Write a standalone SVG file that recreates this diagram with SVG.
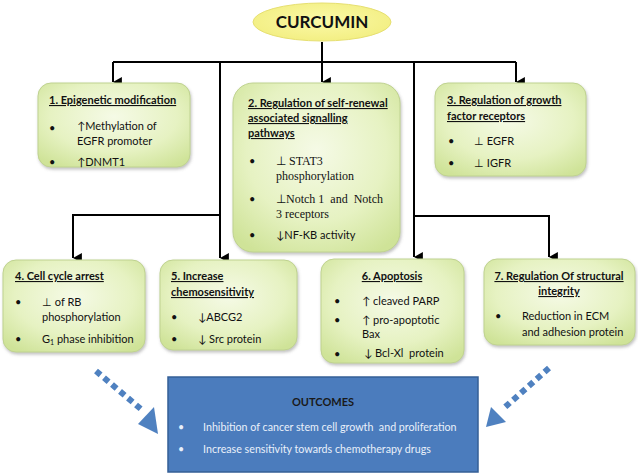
<svg xmlns="http://www.w3.org/2000/svg" width="638" height="475" viewBox="0 0 638 475">
<defs>
<radialGradient id="gn" cx="50%" cy="40%" r="70%">
<stop offset="0" stop-color="#f5fae6"/>
<stop offset="0.6" stop-color="#e6f2c2"/>
<stop offset="1" stop-color="#cfe398"/>
</radialGradient>
<radialGradient id="ye" cx="50%" cy="45%" r="60%">
<stop offset="0" stop-color="#fbf9a8"/>
<stop offset="1" stop-color="#f2ee80"/>
</radialGradient>
<filter id="sh" x="-10%" y="-10%" width="125%" height="125%">
<feDropShadow dx="1" dy="2" stdDeviation="1.5" flood-color="#777" flood-opacity="0.45"/>
</filter>
<marker id="ah" markerUnits="userSpaceOnUse" markerWidth="10" markerHeight="10" refX="4.5" refY="8" orient="auto-start-reverse" viewBox="0 0 9 9">
<path d="M0,0 L9,0 L4.5,8 Z" fill="#000"/>
</marker>
</defs>
<style>
.node{fill:url(#gn);stroke:#bfd290;stroke-width:1;filter:url(#sh)}
.t{font-family:Lato,"Liberation Sans",sans-serif;font-size:11px;fill:#111}
.b{font-weight:bold;text-decoration:underline}
.s{font-family:"Liberation Serif",serif;font-size:12px;fill:#111}
.ln{fill:none;stroke:#000;stroke-width:2}
.da{fill:none;stroke:#4f81c0;stroke-width:6;stroke-dasharray:6 4.5}
.ah2{fill:#4f81c0}
.o{font-family:Lato,"Liberation Sans",sans-serif;font-size:10.7px;fill:#e9f0fa}
.pre{white-space:pre}
</style>

<g id="connectors">
<path class="ln" d="M322,42 V62"/>
<path class="ln" d="M113,62 H516"/>
<path class="ln" d="M113,62 V82" marker-end="url(#ah)"/>
<path class="ln" d="M322,62 V82" marker-end="url(#ah)"/>
<path class="ln" d="M516,62 V82" marker-end="url(#ah)"/>
<path class="ln" d="M220,62 V258" marker-end="url(#ah)"/>
<path class="ln" d="M414,62 V257" marker-end="url(#ah)"/>
<path class="ln" d="M220,215 H73 V258" marker-end="url(#ah)"/>
<path class="ln" d="M414,216 H549 V257" marker-end="url(#ah)"/>
<path class="da" d="M96,371 L142,410"/>
<path class="ah2" d="M138,424 L154,407 L158,434 Z"/>
<path class="da" d="M549,368 L504,408"/>
<path class="ah2" d="M491,407 L506,422 L486,427 Z"/>
</g>

<g id="curcumin">
<ellipse cx="322" cy="22" rx="69" ry="19" fill="url(#ye)" stroke="#e6df70" stroke-width="1"/>
<text x="322" y="28" text-anchor="middle" font-family="Lato,'Liberation Sans',sans-serif" font-size="17" font-weight="bold" fill="#111">CURCUMIN</text>
</g>

<g id="n1">
<rect class="node" x="38" y="83" width="152" height="84" rx="13"/>
<text class="t b" x="49" y="104">1. Epigenetic modification</text>
<text class="t" x="49" y="132">•</text>
<text class="t" x="77" y="130">↑Methylation of</text>
<text class="t" x="77" y="145">EGFR promoter</text>
<text class="t" x="49" y="166">•</text>
<text class="t" x="77" y="166">↑DNMT1</text>
</g>

<g id="n2">
<rect class="node" x="233" y="83" width="167" height="169" rx="20"/>
<text class="t b" x="248" y="107">2. Regulation of self-renewal</text>
<text class="t b" x="248" y="122">associated signalling</text>
<text class="t b" x="248" y="137">pathways</text>
<text class="t" x="249" y="165">•</text>
<text class="s" x="276" y="165">⊥ STAT3</text>
<text class="s" x="276" y="180">phosphorylation</text>
<text class="t" x="249" y="203">•</text>
<text class="s pre" x="276" y="203">⊥Notch 1  and  Notch</text>
<text class="s" x="276" y="218">3 receptors</text>
<text class="t" x="249" y="239">•</text>
<text class="t" x="276" y="239">↓NF-KB activity</text>
</g>

<g id="n3">
<rect class="node" x="435" y="83" width="151" height="93" rx="13"/>
<text class="t b" x="447" y="104">3. Regulation of growth</text>
<text class="t b" x="447" y="120">factor receptors</text>
<text class="t" x="448" y="145">•</text>
<text class="t" x="474" y="145">⊥ EGFR</text>
<text class="t" x="448" y="167">•</text>
<text class="t" x="474" y="167">⊥ IGFR</text>
</g>

<g id="n4">
<rect class="node" x="3" y="260" width="142" height="92" rx="13"/>
<text class="t b" x="15" y="280">4. Cell cycle arrest</text>
<text class="t" x="15" y="306">•</text>
<text class="t" x="42" y="306">⊥ of RB</text>
<text class="t" x="42" y="321">phosphorylation</text>
<text class="t" x="15" y="343">•</text>
<text class="t" x="42" y="343">G<tspan font-size="7" dy="2">1</tspan><tspan dy="-2"> phase inhibition</tspan></text>
</g>

<g id="n5">
<rect class="node" x="160" y="260" width="137" height="90" rx="13"/>
<text class="t b" x="171" y="280">5. Increase</text>
<text class="t b" x="171" y="296">chemosensitivity</text>
<text class="t" x="171" y="321">•</text>
<text class="t" x="198" y="321">↓ABCG2</text>
<text class="t" x="171" y="343">•</text>
<text class="t" x="198" y="343">↓ Src protein</text>
</g>

<g id="n6">
<rect class="node" x="321" y="259" width="143" height="104" rx="13"/>
<text class="t b" x="392" y="280" text-anchor="middle">6. Apoptosis</text>
<text class="t" x="334" y="305">•</text>
<text class="t" x="362" y="305">↑ cleaved PARP</text>
<text class="t" x="334" y="324">•</text>
<text class="t" x="362" y="324">↑ pro-apoptotic</text>
<text class="t" x="362" y="338">Bax</text>
<text class="t" x="334" y="358">•</text>
<text class="t pre" x="364" y="357">↓ Bcl-Xl  protein</text>
</g>

<g id="n7">
<rect class="node" x="484" y="259" width="151" height="86" rx="13"/>
<text class="t b" x="559" y="280" text-anchor="middle">7. Regulation Of structural</text>
<text class="t b" x="559" y="295" text-anchor="middle">integrity</text>
<text class="t" x="495" y="320">•</text>
<text class="t" x="522" y="320">Reduction in ECM</text>
<text class="t" x="522" y="336">and adhesion protein</text>
</g>

<g id="outcomes">
<rect x="168" y="377" width="310" height="95" fill="#4b7cbd" stroke="#355f96" stroke-width="1.5"/>
<text x="323" y="406" text-anchor="middle" font-family="Lato,'Liberation Sans',sans-serif" font-size="11" font-weight="bold" fill="#1a1a1a">OUTCOMES</text>
<text class="o" x="178" y="431">•</text>
<text class="o pre" x="203" y="431">Inhibition of cancer stem cell growth  and proliferation</text>
<text class="o" x="178" y="453">•</text>
<text class="o" x="203" y="453">Increase sensitivity towards chemotherapy drugs</text>
</g>
</svg>
